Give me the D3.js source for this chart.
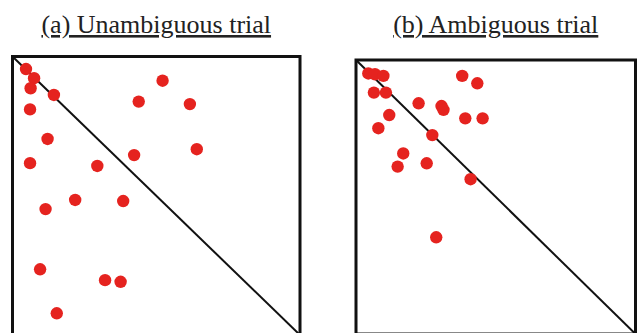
<!DOCTYPE html>
<html>
<head>
<meta charset="utf-8">
<script src="https://cdn.jsdelivr.net/npm/d3@7"></script>
<style>
  body { margin: 0; background: #fff; }
  svg { display: block; }
  .title { font-family: "Liberation Serif", "DejaVu Serif", "Times New Roman", Times, serif; }
</style>
</head>
<body>
<div id="chart"></div>
<script>
// panel titles
const titles = ["(a) Unambiguous trial", "(b) Ambiguous trial"];

// dots, as % of the box: [x from left, y from bottom]
const unambiguousPts = [
  [4.7, 95.5], [7.5, 92.2], [6.3, 88.6], [14.4, 86.2], [52.2, 91.3],
  [43.9, 83.8], [61.7, 82.9], [6.1, 81.0], [12.2, 70.4], [64.1, 66.7],
  [42.3, 64.6], [6.1, 61.7], [29.5, 60.7], [21.8, 48.5], [38.5, 48.1],
  [11.5, 45.2], [9.6, 23.6], [32.2, 19.7], [37.6, 19.1], [15.4, 7.8]
];
const ambiguousPts = [
  [4.4, 95.1], [6.8, 94.8], [9.8, 94.2], [38.0, 94.2], [43.4, 91.5],
  [6.4, 88.1], [10.7, 88.1], [22.4, 84.2], [30.6, 83.2], [31.3, 81.8],
  [11.9, 79.9], [39.1, 78.7], [45.3, 78.7], [8.0, 75.1], [27.3, 72.6],
  [16.9, 65.9], [25.3, 62.3], [14.9, 61.1], [41.0, 56.5], [28.7, 35.3]
];

const width = 639, height = 333;

const svg = d3.select("#chart").append("svg")
    .attr("width", width)
    .attr("height", height);

// box of each panel (pixels)
const panels = [
    {title: titles[0], data: unambiguousPts, left: 12.5, right: 300, top: 56.5, bottom: 335},
    {title: titles[1], data: ambiguousPts, left: 356, right: 635.5, top: 60, bottom: 334}
];

panels.forEach(function (p) {
    const x = d3.scaleLinear().domain([0, 100]).range([p.left, p.right]);
    const y = d3.scaleLinear().domain([0, 100]).range([p.bottom, p.top]);
    const g = svg.append("g");

    g.append("text")
        .attr("class", "title")
        .attr("x", (p.left + p.right) / 2)
        .attr("y", 33)
        .attr("text-anchor", "middle")
        .attr("font-size", 26)
        .attr("text-decoration", "underline")
        .attr("fill", "#222")
        .text(p.title);

    // diagonal
    g.append("line")
        .attr("x1", x(0)).attr("y1", y(100))
        .attr("x2", x(100)).attr("y2", y(0))
        .attr("stroke", "#111")
        .attr("stroke-width", 2);

    g.selectAll("circle")
        .data(p.data)
        .join("circle")
        .attr("cx", d => x(d[0]))
        .attr("cy", d => y(d[1]))
        .attr("r", 6.2)
        .attr("fill", "#e5231f");

    g.append("rect")
        .attr("x", x(0)).attr("y", y(100))
        .attr("width", x(100) - x(0))
        .attr("height", y(0) - y(100))
        .attr("fill", "none")
        .attr("stroke", "#111")
        .attr("stroke-width", 3);
});
</script>
</body>
</html>
